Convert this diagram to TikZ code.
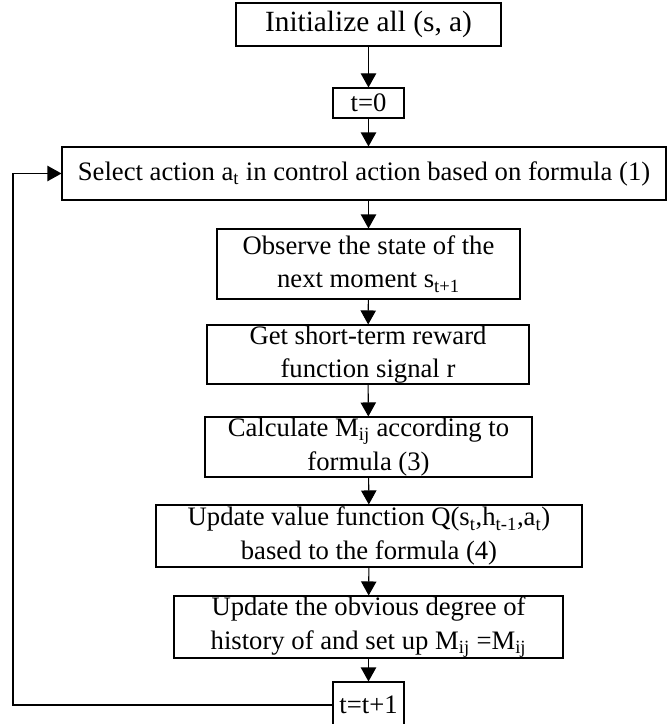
\documentclass[tikz,border=0pt]{standalone}
\usepackage{fontspec}
\setmainfont{Liberation Serif}
\usetikzlibrary{arrows.meta}
\tikzset{
  stepbox/.style={draw, line width=0.8pt, inner sep=0pt, align=center,
    font=\fontsize{20}{25}\selectfont},
  flow/.style={line width=0.8pt}
}
\begin{document}
\begin{tikzpicture}[x=0.75pt, y=0.75pt, >={Triangle[length=10.5pt, width=11.5pt]}]
  \useasboundingbox (0,0) rectangle (669,-724);
  % main column
  \node[stepbox, minimum width=198.75pt, minimum height=32.25pt,
        font=\fontsize{22}{25}\selectfont] (init) at (368.5,-24.5) {Initialize all (s, a)};
  \node[stepbox, minimum width=53.25pt, minimum height=22.5pt] (t0) at (368.5,-103) {t=0};
  \node[stepbox, minimum width=453pt, minimum height=39.75pt] (select) at (364,-173.5)
    {Select action a\textsubscript{t} in control action based on formula (1)};
  \node[stepbox, minimum width=227.25pt, minimum height=52.5pt] (observe) at (368.5,-264)
    {Observe the state of the\\next moment s\textsubscript{t+1}};
  \node[stepbox, minimum width=241.5pt, minimum height=44.25pt] (reward) at (368,-354.5)
    {Get short-term reward\\function signal r};
  \node[stepbox, minimum width=245.25pt, minimum height=45pt] (calc) at (368.5,-447)
    {Calculate M\textsubscript{ij} according to\\formula (3)};
  \node[stepbox, minimum width=319.5pt, minimum height=46.5pt] (update) at (369,-536)
    {Update value function Q(s\textsubscript{t},h\textsubscript{t-1},a\textsubscript{t})\\based to the formula (4)};
  \node[stepbox, minimum width=291.75pt, minimum height=46.5pt] (history) at (368.5,-627)
    {Update the obvious degree of\\history of and set up M\textsubscript{ij} =M\textsubscript{ij}};
  \node[stepbox, minimum width=53.25pt, minimum height=34.5pt] (tnext) at (368.5,-705) {t=t+1};
  % arrows
  \draw[flow, ->] (init) -- (t0);
  \draw[flow, ->] (t0) -- (t0 |- select.north);
  \draw[flow, ->] (observe.north |- select.south) -- (observe);
  \draw[flow, ->] (observe) -- (reward);
  \draw[flow, ->] (reward) -- (calc);
  \draw[flow, ->] (calc) -- (update);
  \draw[flow, ->] (update) -- (history);
  \draw[flow, ->] (history) -- (tnext);
  % loop back
  \coordinate (corner) at (13,-173.5);
  \draw[flow, ->] (tnext.west) -| (corner) -- (select.west);
\end{tikzpicture}
\end{document}
